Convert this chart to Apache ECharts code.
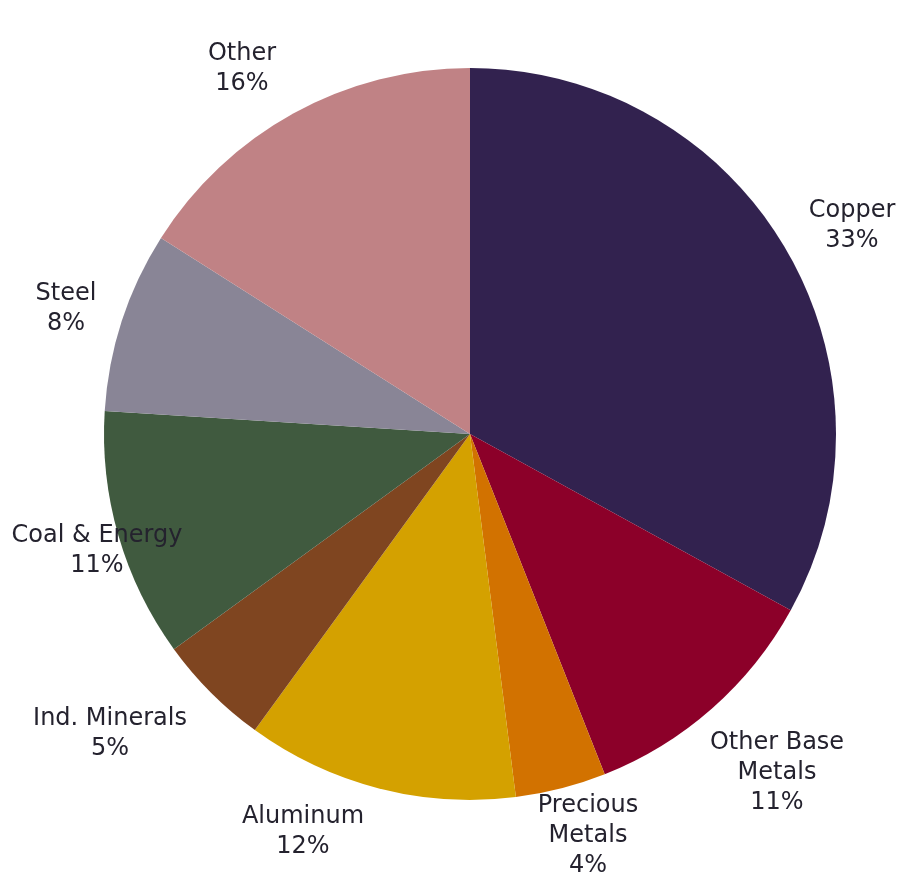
<!DOCTYPE html>
<html>
<head>
<meta charset="utf-8">
<script src="https://cdn.jsdelivr.net/npm/echarts@6/dist/echarts.min.js"></script>
<style>
  html, body { margin: 0; padding: 0; background: #fff; }
  #chart { width: 901px; height: 876px; }
</style>
</head>
<body>
<div id="chart"></div>
<script>
// Share of exposure by commodity (percent)
const categories = ['Copper', 'Other Base Metals', 'Precious Metals', 'Aluminum',
                    'Ind. Minerals', 'Coal & Energy', 'Steel', 'Other'];
const shares = [33, 11, 4, 12, 5, 11, 8, 16];
const colors = ['#32224f', '#8c0029', '#d27200', '#d4a100',
                '#7f4520', '#405a3f', '#898596', '#c08285'];

// Label anchor points around the pie (centre of each text block)
const labelSpots = {
  'Copper': [852, 226],
  'Other Base Metals': [777, 773],
  'Precious Metals': [588, 836],
  'Aluminum': [303, 832],
  'Ind. Minerals': [110, 734],
  'Coal & Energy': [97, 551],
  'Steel': [66, 309],
  'Other': [242, 69]
};

const chart = echarts.init(document.getElementById('chart'), null, { renderer: 'canvas' });

chart.setOption({
  animation: false,
  series: [{
    type: 'pie',
    center: [470, 434],
    radius: 366,
    startAngle: 90,
    clockwise: true,
    data: categories.map((name, i) => ({
      name: name,
      value: shares[i],
      itemStyle: { color: colors[i] }
    })),
    itemStyle: { borderWidth: 0 },
    emphasis: { disabled: true },
    label: {
      show: true,
      position: 'outside',
      fontFamily: 'DejaVu Sans, Verdana, sans-serif',
      fontSize: 24,
      lineHeight: 30,
      color: '#24222e',
      align: 'center',
      overflow: 'none',
      width: 300,
      formatter: p => p.name.replace(/^(Other Base|Precious) /, '$1\n') + '\n' + p.value + '%'
    },
    labelLine: { show: false },
    labelLayout: function (params) {
      const name = categories[params.dataIndex];
      const spot = labelSpots[name];
      return { x: spot[0], y: spot[1], align: 'center', verticalAlign: 'middle' };
    }
  }]
});
</script>
</body>
</html>
